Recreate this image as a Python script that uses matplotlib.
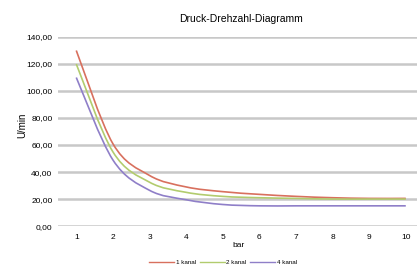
import numpy as np
import matplotlib
matplotlib.use("Agg")
import matplotlib.pyplot as plt
from matplotlib.path import Path
from matplotlib.patches import PathPatch
from matplotlib.lines import Line2D
from matplotlib.ticker import FuncFormatter

plt.rcParams['font.family'] = ['Liberation Sans', 'DejaVu Sans']

# Daten
druck = [1, 2, 3, 4, 5, 6, 7, 8, 9, 10]
kanal_1 = [130, 61, 37.5, 29, 25.5, 23.5, 22, 21, 20.5, 20.5]
kanal_2 = [120, 55, 32.5, 25, 22, 21, 20.5, 20, 20, 20]
kanal_4 = [110, 49, 26.5, 19.5, 16, 15, 15, 15, 15, 15]
namen = ['1 kanal', '2 kanal', '4 kanal']
farben = ['#d8705e', '#b2cc6e', '#8f7fc8']


def glatte_linie(ax, xs, ys, farbe):
    # geglaettete Linie (wie Excel) als Bezier-Pfad in Datenkoordinaten
    p = np.column_stack([xs, ys]).astype(float)
    n = len(p)
    verts = [p[0]]
    codes = [Path.MOVETO]
    for i in range(n - 1):
        p0 = p[i - 1] if i > 0 else p[i]
        p3 = p[i + 2] if i + 2 < n else p[i + 1]
        c1 = p[i] + (p[i + 1] - p0) / 6
        c2 = p[i + 1] - (p3 - p[i]) / 6
        verts += [c1, c2, p[i + 1]]
        codes += [Path.CURVE4] * 3
    ax.add_patch(PathPatch(Path(verts, codes), fill=False, edgecolor=farbe, lw=1.2))


fig = plt.figure(figsize=(4.17, 2.66), dpi=100)
ax = fig.add_axes([0.139, 0.150, 0.878, 0.711])

for werte, farbe in zip([kanal_1, kanal_2, kanal_4], farben):
    glatte_linie(ax, druck, werte, farbe)

ax.set_xlim(0.5, 10.5)
ax.set_ylim(0, 140)
ax.set_yticks(range(0, 141, 20))
ax.set_xticks(druck)
ax.yaxis.set_major_formatter(FuncFormatter(lambda v, _: f"{v:.2f}".replace('.', ',')))
ax.grid(axis='y', color='#c8c8c8', lw=1.8)
ax.set_axisbelow(True)
for s in ax.spines.values():
    s.set_visible(False)
ax.tick_params(length=0, labelsize=6, pad=4)
ax.tick_params(axis='x', pad=6)

fig.text(0.577, 0.93, 'Druck-Drehzahl-Diagramm', ha='center', va='center', fontsize=7.5)
fig.text(0.053, 0.53, 'U/min', rotation=90, ha='center', va='center', fontsize=7)
fig.text(0.571, 0.078, 'bar', ha='center', va='center', fontsize=6)

handles = [Line2D([], [], color=f, lw=1) for f in farben]
fig.legend(handles, namen, loc='center', bbox_to_anchor=(0.535, 0.015), ncol=3,
           frameon=False, fontsize=4.5, handlelength=4, columnspacing=0.6, handletextpad=0.3)

fig.savefig('out.png', dpi=100)
